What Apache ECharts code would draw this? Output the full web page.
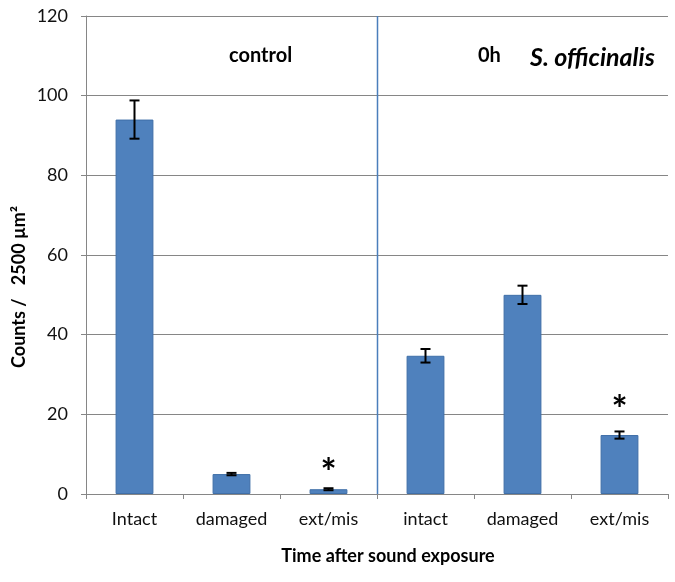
<!DOCTYPE html>
<html><head><meta charset="utf-8">
<script src="https://cdn.jsdelivr.net/npm/echarts@6/dist/echarts.min.js"></script>
<style>html,body{margin:0;padding:0;background:#fff}#c{width:675px;height:582px}</style>
</head><body><div id="c"></div>
<script>
var categories = ['Intact','damaged','ext/mis','intact','damaged','ext/mis'];
var values = [94, 5, 1.2, 34.7, 50, 14.8];
var errors = [4.8, 0.3, 0.25, 1.7, 2.3, 0.9];
var yTicks = [0, 20, 40, 60, 80, 100, 120];
var starCats = [2, 5];
var starLevels = [5.0, 20.8];
var separatorAfter = [2];

var FONT = 'Lato';
var chart = echarts.init(document.getElementById('c'), null, {renderer:'canvas'});
var errData = values.map(function(v,i){return [i, v, errors[i]];});
var starData = starCats.map(function(c,i){return [c, starLevels[i]];});
var sepData = separatorAfter.map(function(c){return [c, c+1];});

chart.setOption({
  animation:false,
  grid:{left:86, right:7, top:16, bottom:88},
  xAxis:{type:'category', data:categories,
    axisLine:{lineStyle:{color:'#868686', width:1}},
    axisTick:{show:true, length:5, lineStyle:{color:'#868686'}},
    axisLabel:{color:'#111', fontFamily:FONT, fontSize:18, margin:16}},
  yAxis:{type:'value', min:yTicks[0], max:yTicks[yTicks.length-1], interval:20,
    axisLine:{show:true, lineStyle:{color:'#868686'}},
    axisTick:{show:true, length:5, lineStyle:{color:'#868686'}},
    splitLine:{lineStyle:{color:'#868686', width:1}},
    axisLabel:{color:'#111', fontFamily:FONT, fontSize:18, margin:18}},
  graphic:[
    {type:'text', left:229, top:46, style:{text:'control', font:'bold 20px '+FONT, fill:'#000'}},
    {type:'text', left:478, top:46, style:{text:'0h', font:'bold 20px '+FONT, fill:'#000'}},
    {type:'text', left:530, top:45, style:{text:'S. officinalis', font:'italic bold 25px '+FONT, fill:'#000'}},
    {type:'text', x:19, y:287, rotation:Math.PI/2, style:{text:'Counts /   2500 µm²', font:'bold 18px '+FONT, fill:'#000', align:'center', verticalAlign:'middle'}},
    {type:'text', x:388, y:556, style:{text:'Time after sound exposure', font:'bold 18px '+FONT, fill:'#000', align:'center', verticalAlign:'middle'}}
  ],
  series:[
    {type:'bar', data:values, barWidth:'39%', itemStyle:{color:'#4f81bd', borderColor:'#3f6fa8', borderWidth:1}},
    {type:'custom', data:errData, z:5, renderItem:function(params, api){
      var i=api.value(0), v=api.value(1), e=api.value(2);
      var t=api.coord([i, v+e]), b=api.coord([i, v-e]);
      var hw=5;
      return {type:'group', children:[
        {type:'line', shape:{x1:t[0],y1:t[1],x2:b[0],y2:b[1]}, style:{stroke:'#000', lineWidth:2}},
        {type:'line', shape:{x1:t[0]-hw,y1:t[1],x2:t[0]+hw,y2:t[1]}, style:{stroke:'#000', lineWidth:2}},
        {type:'line', shape:{x1:b[0]-hw,y1:b[1],x2:b[0]+hw,y2:b[1]}, style:{stroke:'#000', lineWidth:2}}
      ]};
    }},
    {type:'custom', data:sepData, z:4, renderItem:function(params, api){
      var a=api.coord([api.value(0),0]), b=api.coord([api.value(1),0]);
      var x=Math.round((a[0]+b[0])/2)+0.5;
      var cs=params.coordSys;
      return {type:'line', shape:{x1:x,y1:cs.y,x2:x,y2:cs.y+cs.height}, style:{stroke:'#4a7ebb', lineWidth:1.5}};
    }},
    {type:'custom', data:starData, z:6, renderItem:function(params, api){
      var p=api.coord([api.value(0), api.value(1)]);
      return {type:'text', x:p[0], y:p[1], style:{text:'*', font:'bold 38px '+FONT, fill:'#000', align:'center', verticalAlign:'middle'}};
    }}
  ]
});
</script></body></html>
